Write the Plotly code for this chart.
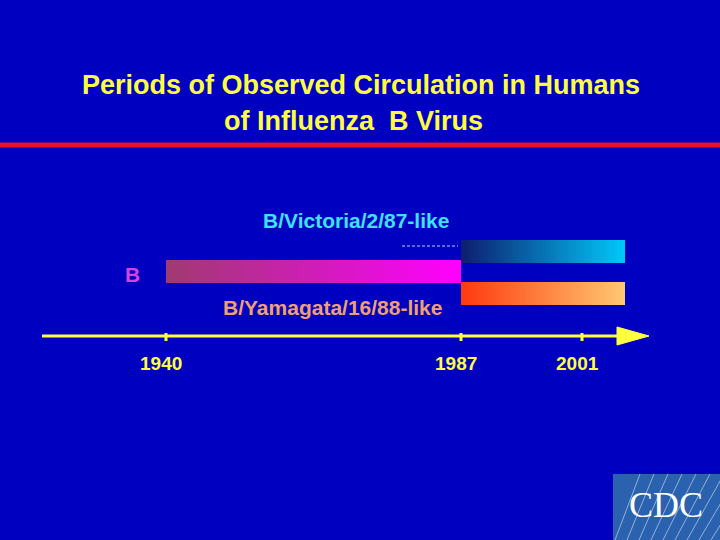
import numpy as np
import plotly.graph_objects as go

# timeline data
tick_years = [1940, 1987, 2001]
tick_px = [166, 461, 582]          # slide positions of the axis ticks (non-linear scale)
lineages = ["B", "B/Victoria/2/87-like", "B/Yamagata/16/88-like"]
start_years = [1940, 1987, 1987]
end_years = [1987, 2006, 2006]
bar_colors = [["#A03A70", "#FF00FF"], ["#0E1E6E", "#00C8F8"], ["#FF3A10", "#FFC870"]]


def year_to_px(y):
    # piecewise linear scale through the tick anchors
    y = np.asarray(y, dtype=float)
    out = np.interp(y, tick_years, tick_px)
    slope = (tick_px[-1] - tick_px[-2]) / (tick_years[-1] - tick_years[-2])
    return np.where(y > tick_years[-1], tick_px[-1] + (y - tick_years[-1]) * slope, out)


BG = "#0000C0"
YEL = "#FFFF40"
fig = go.Figure()

bar_rows = [(260, 283), (240, 263), (282, 305)]
for (x0y, x1y), (c0, c1), (ya, yb) in zip(zip(start_years, end_years), bar_colors, bar_rows):
    x0, x1 = year_to_px([x0y, x1y])
    n = 80
    fig.add_trace(go.Heatmap(
        x=np.linspace(x0, x1, n + 1), y=[ya, yb],
        z=[np.linspace(0, 1, n)], colorscale=[[0, c0], [1, c1]],
        showscale=False, hoverinfo="skip"))

# dashed connector before Victoria bar
fig.add_trace(go.Scatter(x=[402, 458], y=[246, 246], mode="lines",
                         line=dict(color="#C0C8FF", width=1, dash="3px,2px"),
                         hoverinfo="skip"))

# time axis with arrow
fig.add_trace(go.Scatter(x=[42, 620], y=[336, 336], mode="lines",
                         line=dict(color=YEL, width=3), hoverinfo="skip"))
fig.add_trace(go.Scatter(x=[617, 649, 617, 617], y=[327, 336, 345, 327], mode="lines",
                         fill="toself", fillcolor=YEL, line=dict(color=YEL, width=1),
                         hoverinfo="skip"))
tp = year_to_px(tick_years)
for x in tp:
    fig.add_shape(type="line", x0=x, x1=x, y0=333, y1=341, line=dict(color=YEL, width=3))
for x, yr in zip(tp, tick_years):
    fig.add_annotation(x=x - 5, y=363, text=f"<b>{yr}</b>", showarrow=False,
                       font=dict(color=YEL, size=19, family="Liberation Sans, Arial"))

lab = [(132, 274, "#D840E0"), (356, 220, "#40E0FF"), (332, 307, "#F0A070")]
for name, (x, y, c) in zip(lineages, lab):
    fig.add_annotation(x=x, y=y, text=f"<b>{name}</b>", showarrow=False,
                       font=dict(color=c, size=21, family="Liberation Sans, Arial"))

# title and rule
fig.add_annotation(x=361, y=85, text="<b>Periods of Observed Circulation in Humans</b>",
                   showarrow=False, font=dict(color=YEL, size=27, family="Liberation Sans, Arial"))
fig.add_annotation(x=353, y=121, text="<b>of Influenza  B Virus</b>",
                   showarrow=False, font=dict(color=YEL, size=27, family="Liberation Sans, Arial"))
fig.add_shape(type="line", x0=0, x1=720, y0=145, y1=145, line=dict(color="#E8102A", width=5))

# CDC logo
fig.add_shape(type="rect", x0=613, x1=720, y0=474, y1=540, fillcolor="#2A62B0", line_width=0)
for k in range(9):
    fig.add_shape(type="line", x0=615 + k * 12, x1=640 + k * 14, y0=540, y1=474,
                  line=dict(color="rgba(255,255,255,0.5)", width=1))
fig.add_annotation(x=666, y=505, text="CDC", showarrow=False,
                   font=dict(color="white", size=36, family="Liberation Serif, Times New Roman"))

fig.update_xaxes(range=[0, 720], visible=False)
fig.update_yaxes(range=[540, 0], visible=False)
fig.update_layout(width=720, height=540, margin=dict(l=0, r=0, t=0, b=0),
                  paper_bgcolor=BG, plot_bgcolor=BG, showlegend=False)
fig.write_html("out.html", config={"displayModeBar": False},
               post_script="document.body.style.margin='0';")
